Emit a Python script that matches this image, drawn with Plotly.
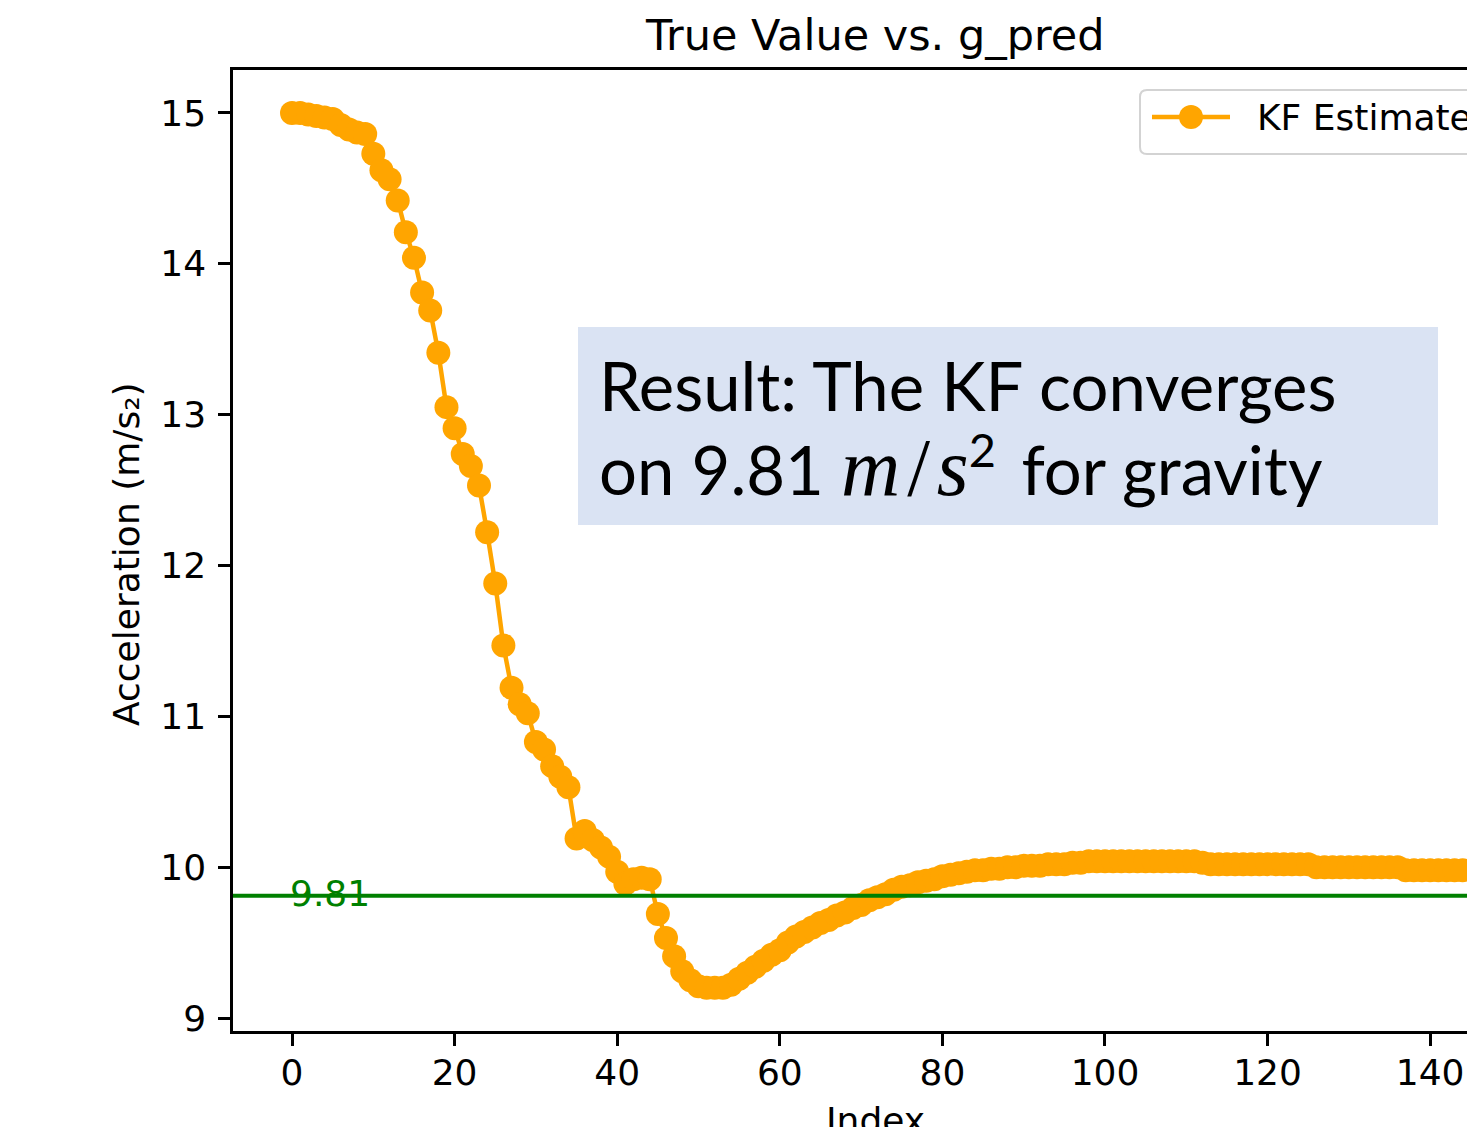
import plotly.graph_objects as go

# ---------------- data ----------------
index_vals = list(range(145))
kf_estimate = [
    15.00, 15.00, 14.99, 14.98, 14.97, 14.96, 14.92, 14.89, 14.87, 14.86,
    14.73, 14.62, 14.56, 14.42, 14.21, 14.04, 13.81, 13.69, 13.41, 13.05,
    12.91, 12.74, 12.66, 12.53, 12.22, 11.88, 11.47, 11.19, 11.08, 11.02,
    10.83, 10.78, 10.67, 10.60, 10.53, 10.19, 10.24, 10.18, 10.13, 10.07,
    9.97, 9.89, 9.92, 9.93, 9.92, 9.69, 9.53, 9.41, 9.31, 9.25,
    9.21, 9.20, 9.20, 9.20, 9.22, 9.26, 9.30, 9.34, 9.38, 9.42,
    9.45, 9.50, 9.54, 9.57, 9.60, 9.63, 9.65, 9.68, 9.70, 9.73,
    9.75, 9.78, 9.80, 9.82, 9.85, 9.87, 9.88, 9.90, 9.91, 9.92,
    9.94, 9.95, 9.96, 9.97, 9.98, 9.98, 9.99, 9.99, 10.00, 10.00,
    10.01, 10.01, 10.01, 10.02, 10.02, 10.02, 10.03, 10.03, 10.04, 10.04,
    10.04, 10.04, 10.04, 10.04, 10.04, 10.04, 10.04, 10.04, 10.04, 10.04,
    10.04, 10.04, 10.03, 10.02, 10.02, 10.02, 10.02, 10.02, 10.02, 10.02,
    10.02, 10.02, 10.02, 10.02, 10.02, 10.02, 10.00, 10.00, 10.00, 10.00,
    10.00, 10.00, 10.00, 10.00, 10.00, 10.00, 10.00, 9.98, 9.98, 9.98,
    9.98, 9.98, 9.98, 9.98, 9.98,
]
true_g = 9.81
x_ticks = [0, 20, 40, 60, 80, 100, 120, 140]
y_ticks = [9, 10, 11, 12, 13, 14, 15]
title_text = "True Value vs. g_pred"
x_label = "Index"
y_label = "Acceleration (m/s\u2082)"
legend_label = "KF Estimate"
true_label = "9.81"
box_line1 = "Result: The KF converges"
box_line2 = ("on 9.81 <span style=\"font-family:Liberation Serif;font-size:82px\">"
             "<i>m</i>\u200a/\u200a<i>s</i></span><sup>2</sup>\u2009 for gravity")

# ---------------- geometry ----------------
W, H = 1467, 1127
L, R, T, B = 233, 0, 70, 96
PW = W - L - R
PH = H - T - B


def px(xp):
    return (xp - L) / PW


def py(yp):
    return (H - B - yp) / PH


ORANGE = "#FFA500"
FONT = "DejaVu Sans"

fig = go.Figure()
fig.add_trace(go.Scatter(
    x=index_vals, y=kf_estimate, mode="lines+markers",
    line=dict(color=ORANGE, width=4.5),
    marker=dict(color=ORANGE, size=24, line=dict(width=0)),
    showlegend=False, cliponaxis=True,
))

shapes = [
    dict(type="line", xref="paper", yref="y", x0=0, x1=1, y0=true_g, y1=true_g,
         line=dict(color="#008000", width=4), layer="above"),
    dict(type="rect", xref="paper", yref="paper",
         x0=px(578), x1=px(1438), y0=py(525), y1=py(327),
         fillcolor="#DAE3F3", line=dict(width=0), layer="above"),
]

lx0, lx1, ly0, ly1, r = 1140, 1520, 90, 154, 7
path = (f"M {px(lx0 + r)},{py(ly0)} L {px(lx1)},{py(ly0)} L {px(lx1)},{py(ly1)} "
        f"L {px(lx0 + r)},{py(ly1)} Q {px(lx0)},{py(ly1)} {px(lx0)},{py(ly1 - r)} "
        f"L {px(lx0)},{py(ly0 + r)} Q {px(lx0)},{py(ly0)} {px(lx0 + r)},{py(ly0)} Z")
shapes.append(dict(type="path", xref="paper", yref="paper", path=path,
                   fillcolor="rgba(255,255,255,0.85)",
                   line=dict(color="#d3d3d3", width=2), layer="above"))
shapes.append(dict(type="line", xref="paper", yref="paper",
                   x0=px(1152), x1=px(1230), y0=py(117), y1=py(117),
                   line=dict(color=ORANGE, width=4.5), layer="above"))
shapes.append(dict(type="circle", xref="paper", yref="paper",
                   xsizemode="pixel", ysizemode="pixel",
                   xanchor=px(1191), yanchor=py(117),
                   x0=-12, x1=12, y0=-12, y1=12,
                   fillcolor=ORANGE, line=dict(width=0), layer="above"))

annotations = [
    dict(text=title_text, xref="paper", yref="paper", x=px(875), y=py(35),
         xanchor="center", yanchor="middle", showarrow=False,
         font=dict(family=FONT, size=43, color="black")),
    dict(text=x_label, xref="paper", yref="paper", x=px(875), y=py(1120),
         xanchor="center", yanchor="middle", showarrow=False,
         font=dict(family=FONT, size=36, color="black")),
    dict(text=y_label, xref="paper", yref="paper", x=px(126), y=py(554),
         xanchor="center", yanchor="middle", showarrow=False, textangle=-90,
         font=dict(family=FONT, size=36, color="black")),
    dict(text=true_label, xref="x", yref="y", x=0, y=true_g,
         xanchor="left", yanchor="middle", showarrow=False, xshift=-4, yshift=2,
         font=dict(family=FONT, size=36, color="#008000")),
    dict(text=legend_label, xref="paper", yref="paper", x=px(1255), y=py(118),
         xanchor="left", yanchor="middle", showarrow=False,
         font=dict(family=FONT, size=36, color="black")),
    dict(text=box_line1, xref="paper", yref="paper", x=px(597), y=py(385),
         xanchor="left", yanchor="middle", showarrow=False,
         font=dict(family="Lato", size=67, color="black")),
    dict(text=box_line2, xref="paper", yref="paper", x=px(597), y=py(467),
         xanchor="left", yanchor="middle", showarrow=False,
         font=dict(family="Lato", size=67, color="black")),
]

axis_common = dict(
    showgrid=False, zeroline=False, showline=True, linecolor="black", linewidth=2.5,
    ticks="outside", ticklen=12, tickwidth=2.5, tickcolor="black",
    tickfont=dict(family=FONT, size=36, color="black"),
)

fig.update_layout(
    width=W, height=H,
    margin=dict(l=L, r=R, t=T, b=B, autoexpand=False),
    paper_bgcolor="white", plot_bgcolor="white",
    xaxis=dict(range=[-7.26, 144.53], tickvals=x_ticks, mirror=True,
               ticklabelstandoff=-4, **axis_common),
    yaxis=dict(range=[8.914, 15.285], tickvals=y_ticks,
               ticklabelstandoff=5, **axis_common),
    shapes=shapes, annotations=annotations, showlegend=False,
)

fig.write_html("out.html")
